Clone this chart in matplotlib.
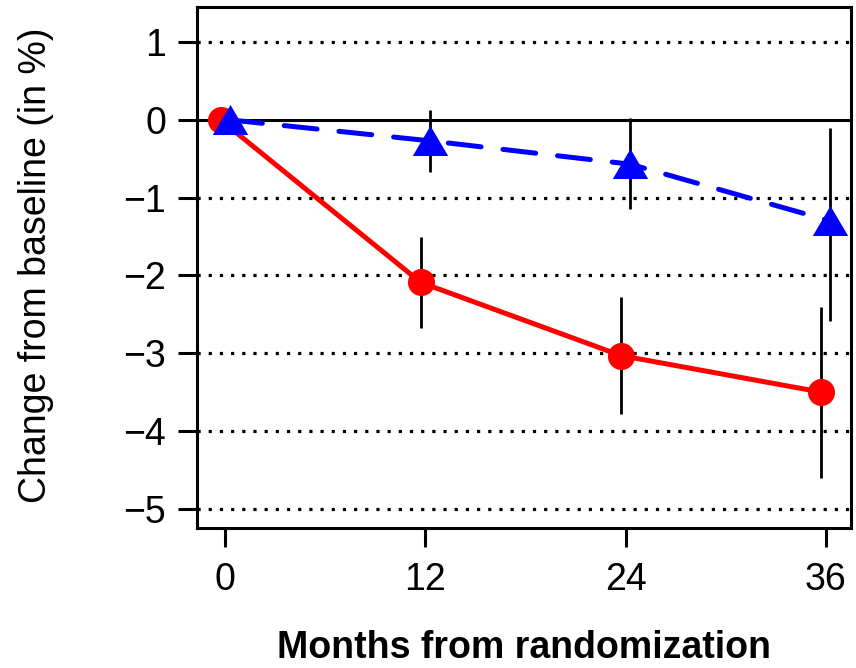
import matplotlib
matplotlib.use("Agg")
import matplotlib.pyplot as plt

# values
months = [0, 12, 24, 36]
red_mean = [0.0, -2.09, -3.03, -3.50]
red_lo = [0.0, -2.68, -3.78, -4.60]
red_hi = [0.0, -1.50, -2.28, -2.40]
blue_mean = [0.0, -0.27, -0.57, -1.30]
blue_lo = [0.0, -0.67, -1.15, -2.58]
blue_hi = [0.0, 0.13, 0.02, -0.11]
x_ticks = [0, 12, 24, 36]
y_ticks = [1, 0, -1, -2, -3, -4, -5]
dodge = 0.27

plt.rcParams['font.family'] = ['Liberation Sans', 'DejaVu Sans']

fig = plt.figure(figsize=(8.56, 6.68), dpi=100)
ax = fig.add_axes([0.2305, 0.2091, 0.7633, 0.7804])

# dotted reference lines, solid at zero
for y in y_ticks:
    if y == 0:
        ax.axhline(y, color='black', lw=2.2, zorder=1)
    else:
        ax.axhline(y, color='black', lw=2.3, linestyle=(0, (1, 2.5)), zorder=1)

xr = [m - dodge for m in months]
xb = [m + dodge for m in months]

# error bars (vertical segments)
ax.vlines(xr[1:], red_lo[1:], red_hi[1:], color='black', lw=2.0, zorder=2)
ax.vlines(xb[1:], blue_lo[1:], blue_hi[1:], color='black', lw=2.0, zorder=2)

ax.plot(xr, red_mean, color='red', lw=3.6, marker='o', markersize=19.5,
        markeredgewidth=0, solid_capstyle='round', zorder=3)
tri = [(-1, -0.82), (1, -0.82), (0, 0.88)]
ax.plot(xb, blue_mean, color='blue', lw=3.6, dashes=(6.6, 4.4),
        dash_capstyle='round', zorder=4)
ax.plot(xb, blue_mean, linestyle='none', color='blue', marker=tri,
        markersize=25.5, markeredgewidth=0, zorder=5)

ax.set_xlim(-1.66, 37.49)
ax.set_ylim(-5.25, 1.45)
ax.set_xticks(x_ticks)
ax.set_yticks(y_ticks)
ax.tick_params(axis='both', length=13.5, width=2.2, labelsize=27, color='black')
ax.tick_params(axis='x', pad=11)
ax.tick_params(axis='y', pad=9)
for s in ax.spines.values():
    s.set_linewidth(2.2)

ax.set_xlabel('Months from randomization', fontsize=27, fontweight='bold', va='center')
ax.xaxis.set_label_coords(0.5, -0.2296)
ax.set_ylabel('Change from baseline (in %)', fontsize=27, va='center')
ax.yaxis.set_label_coords(-0.247, 0.505)

fig.savefig('out.png', dpi=100)
